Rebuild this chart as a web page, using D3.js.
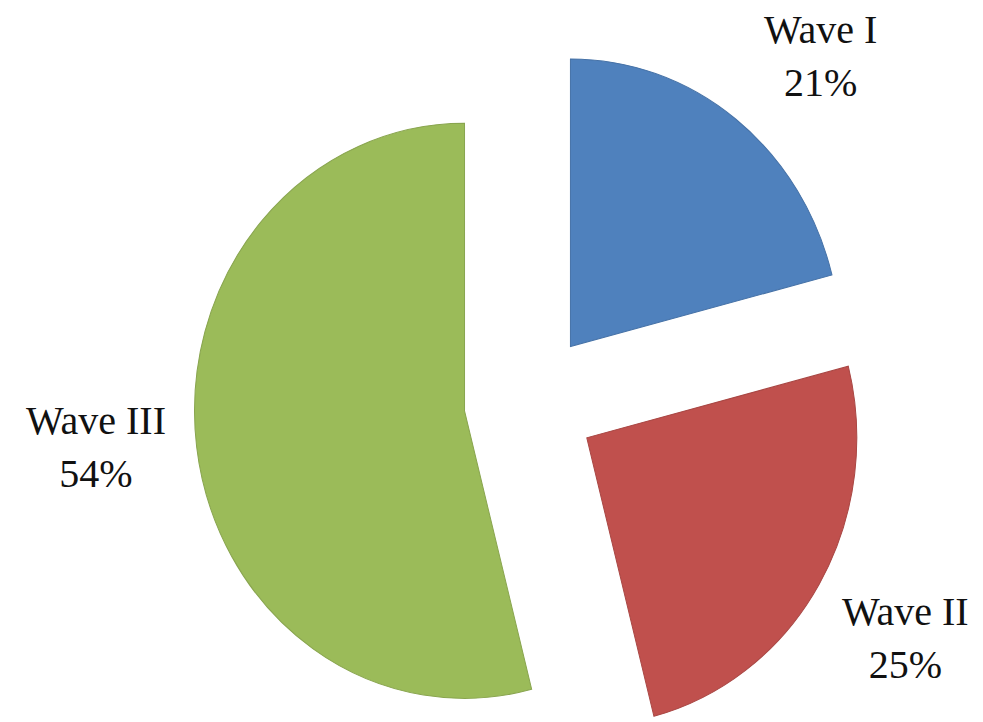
<!DOCTYPE html>
<html>
<head>
<meta charset="utf-8">
<script src="https://cdn.jsdelivr.net/npm/d3@7"></script>
<style>
  html, body { margin: 0; padding: 0; background: #fff; }
  svg { display: block; }
</style>
</head>
<body>
<div id="chart"></div>
<script>
// data
const categories = ['Wave I', 'Wave II', 'Wave III'];
const values = [21, 25, 54];
const colors = ['#4F81BD', '#C0504D', '#9BBB59'];

const width = 983;
const height = 722;

// layout of the (slightly stretched) exploded pie
const cx = 530, cy = 402;
const radius = 270;
const yStretch = 1.065;
const explode = 66;
const labelRadius = 436;
// best-fit label placement turns some labels a bit off the bisector (degrees)
const labelNudge = [4, 0, 1.7];

const svg = d3.select('#chart')
    .append('svg')
    .attr('width', width)
    .attr('height', height);

const pie = d3.pie().sort(null).value(d => d.value);
const arcs = pie(categories.map((c, i) => ({ name: c, value: values[i] })));

const arc = d3.arc().innerRadius(0).outerRadius(radius);

const g = svg.append('g')
    .attr('transform', `translate(${cx},${cy}) scale(1,${yStretch})`);

// slices, each pushed out along its bisector
g.selectAll('path.slice')
    .data(arcs)
    .enter()
    .append('path')
    .attr('class', 'slice')
    .attr('d', arc)
    .attr('fill', (d, i) => colors[i])
    .attr('stroke', (d, i) => d3.color(colors[i]).darker(0.35))
    .attr('stroke-width', 1)
    .attr('transform', d => {
        const a = (d.startAngle + d.endAngle) / 2;
        return `translate(${explode * Math.sin(a)},${-explode * Math.cos(a)})`;
    });

// labels, outside each slice
const labels = svg.selectAll('text.label')
    .data(arcs)
    .enter()
    .append('text')
    .attr('class', 'label')
    .attr('text-anchor', 'middle')
    .attr('font-family', '"Liberation Serif", "Times New Roman", serif')
    .attr('font-size', 40)
    .attr('fill', '#111')
    .attr('transform', (d, i) => {
        const a = (d.startAngle + d.endAngle) / 2 + labelNudge[i] * Math.PI / 180;
        const x = cx + labelRadius * Math.sin(a);
        const y = cy - labelRadius * Math.cos(a) * yStretch;
        return `translate(${x},${y})`;
    });

labels.append('tspan')
    .attr('x', 0)
    .attr('y', -13)
    .text(d => d.data.name);

labels.append('tspan')
    .attr('x', 0)
    .attr('y', 40)
    .text(d => `${d.data.value}%`);
</script>
</body>
</html>
